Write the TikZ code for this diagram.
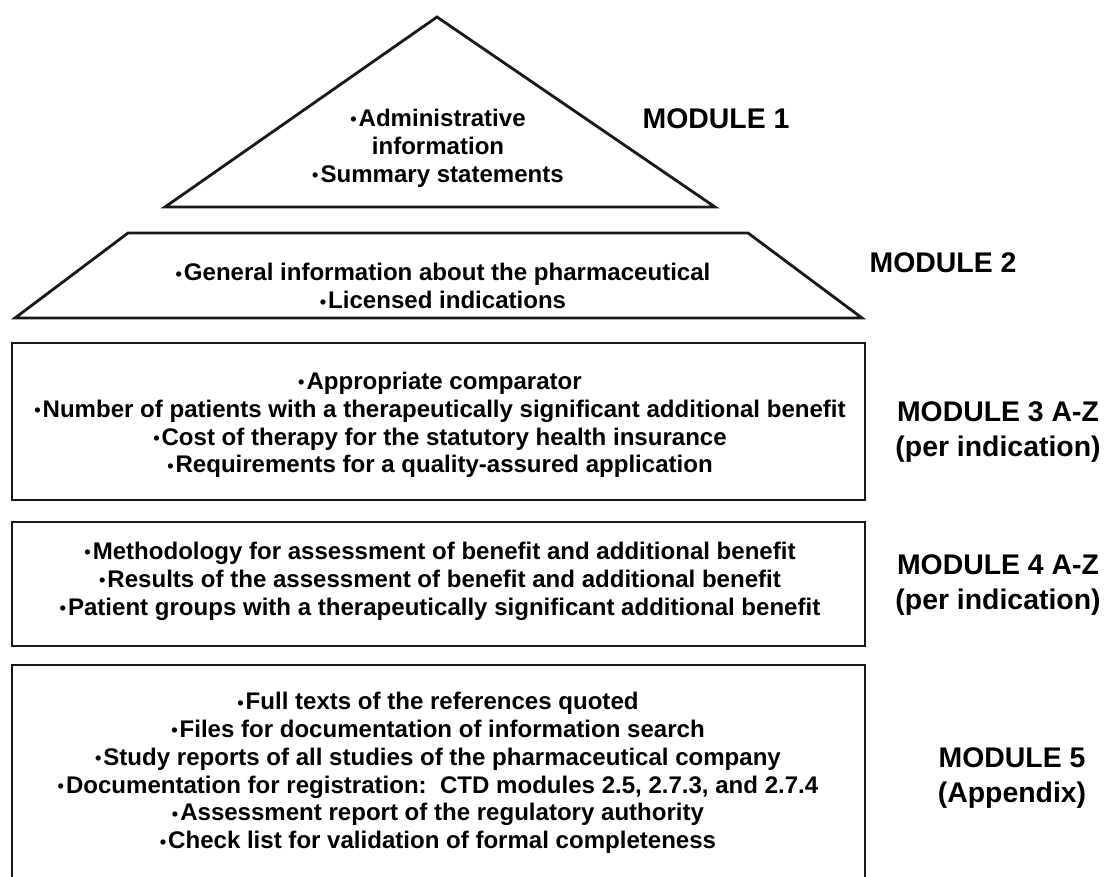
\documentclass[tikz,border=0pt]{standalone}
\usepackage{fontspec}
\setmainfont{Liberation Sans}

% small bullet in front of each item
\newcommand\bul{\raisebox{.02em}{\fontsize{13}{13}\selectfont\bfseries •}\hspace{.08em}}

\tikzset{
  outline/.style={line width=2pt, line join=miter},
  bodytext/.style={align=center, font=\fontsize{17.1}{19.8}\selectfont\bfseries},
  modlabel/.style={align=center, font=\fontsize{20.2}{25.5}\selectfont\bfseries}
}

\begin{document}
\begin{tikzpicture}[x=0.025cm, y=-0.025cm]

\def\boxL{12}
\def\boxR{865}
\def\clrline{black!90}

\useasboundingbox (0,0) rectangle (1112,876);

\begin{scope}[outline, draw=\clrline]
	% module 1: triangle
	\draw (437,17) -- (715,207) -- (165,207) -- cycle;
	% module 2: trapezoid
	\draw (128,233) -- (748,233) -- (862,318) -- (15,318) -- cycle;
	% module 3
	\draw (\boxL,343) rectangle (\boxR,500);
	% module 4
	\draw (\boxL,522) rectangle (\boxR,646);
	% module 5, runs off the bottom
	\draw (\boxL,880) -- (\boxL,665) -- (\boxR,665) -- (\boxR,880);
\end{scope}

% contents
\node [bodytext] (textA) at (438,148) {\bul Administrative\\information\\\bul Summary statements};
\node [bodytext] (textB) at (443,286) {\bul General information about the pharmaceutical\\\bul Licensed indications};
\node [bodytext] (textC) at (440,425) {\bul Appropriate comparator\\
	\bul Number of patients with a therapeutically significant additional benefit\\
	\bul Cost of therapy for the statutory health insurance\\
	\bul Requirements for a quality-assured application};
\node [bodytext] (textD) at (440,581) {\bul Methodology for assessment of benefit and additional benefit\\
	\bul Results of the assessment of benefit and additional benefit\\
	\bul Patient groups with a therapeutically significant additional benefit};
\node [bodytext] (textE) at (438,773) {\bul Full texts of the references quoted\\
	\bul Files for documentation of information search\\
	\bul Study reports of all studies of the pharmaceutical company\\
	\bul Documentation for registration:\ \ CTD modules 2.5, 2.7.3, and 2.7.4\\
	\bul Assessment report of the regulatory authority\\
	\bul Check list for validation of formal completeness};

% labels on the right
\node [modlabel] (modA) at (716,119) {MODULE 1};
\node [modlabel] (modB) at (943,263) {MODULE 2};
\node [modlabel] (modC) at (998,432) {MODULE 3 A-Z\\(per indication)};
\node [modlabel] (modD) at (998,585) {MODULE 4 A-Z\\(per indication)};
\node [modlabel] (modE) at (1012,778) {MODULE 5\\(Appendix)};

\end{tikzpicture}
\end{document}
